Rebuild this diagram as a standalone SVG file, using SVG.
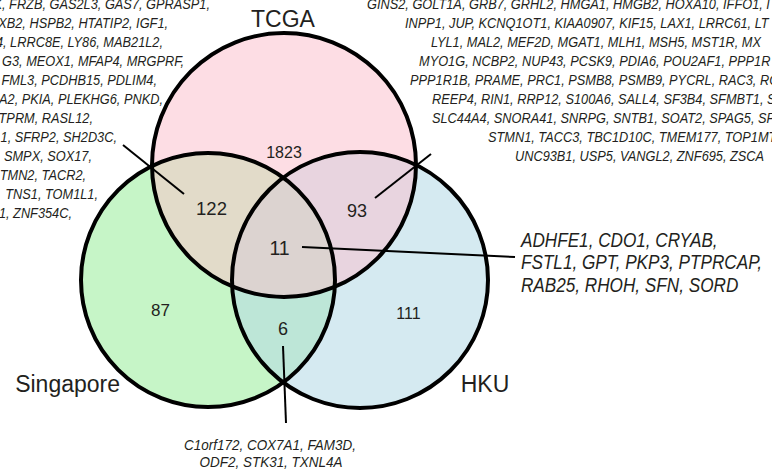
<svg xmlns="http://www.w3.org/2000/svg" xmlns:xlink="http://www.w3.org/1999/xlink" width="772" height="469" viewBox="0 0 772 469">
<style>
.outline{fill:none;stroke:#000;stroke-width:4}
.conn{stroke:#000;stroke-width:2;fill:none}
.lab{font-family:"Liberation Sans",Arial,sans-serif;font-size:23px;fill:#231f20}
.num{font-family:"Liberation Sans",Arial,sans-serif;fill:#231f20;text-anchor:middle}
.gene{font-family:"Liberation Sans",Arial,sans-serif;font-style:italic;font-size:14.2px;fill:#231f20}
.g11{font-family:"Liberation Sans",Arial,sans-serif;font-style:italic;font-size:19.5px;fill:#231f20}
.g6{font-family:"Liberation Sans",Arial,sans-serif;font-style:italic;font-size:15.3px;fill:#231f20;text-anchor:middle}
</style>
<defs>
<circle id="cT" cx="284" cy="165" r="132"/>
<circle id="cS" cx="208" cy="280" r="127"/>
<circle id="cH" cx="360" cy="280" r="128"/>
<clipPath id="clipT"><use xlink:href="#cT"/></clipPath>
<clipPath id="clipS"><use xlink:href="#cS"/></clipPath>
<clipPath id="clipH"><use xlink:href="#cH"/></clipPath>
</defs>
<rect width="772" height="469" fill="#fff"/>
<g id="set-tcga">
<use xlink:href="#cT" fill="#fddde4"/>
<text class="lab" x="283" y="27" text-anchor="middle">TCGA</text>
</g>
<g id="set-singapore">
<use xlink:href="#cS" fill="#c6f5c7"/>
<text class="lab" x="120" y="392" text-anchor="end">Singapore</text>
</g>
<g id="set-hku">
<use xlink:href="#cH" fill="#d5eaf1"/>
<text class="lab" x="485" y="392" text-anchor="middle">HKU</text>
</g>
<g id="overlaps">
<g clip-path="url(#clipT)"><use xlink:href="#cS" fill="#e2dbc9"/></g>
<g clip-path="url(#clipT)"><use xlink:href="#cH" fill="#e8d4df"/></g>
<g clip-path="url(#clipH)"><use xlink:href="#cS" fill="#bde6d7"/></g>
<g clip-path="url(#clipT)"><g clip-path="url(#clipH)"><use xlink:href="#cS" fill="#dcd3d0"/></g></g>
</g>
<g id="outlines">
<use xlink:href="#cT" class="outline"/>
<use xlink:href="#cS" class="outline"/>
<use xlink:href="#cH" class="outline"/>
</g>
<g id="counts">
<text class="num" x="284" y="158" font-size="16">1823</text>
<text class="num" x="211.5" y="215" font-size="18.5">122</text>
<text class="num" x="357" y="217" font-size="18">93</text>
<text class="num" x="279.5" y="255" font-size="19.5">11</text>
<text class="num" x="160.5" y="316" font-size="17">87</text>
<text class="num" x="283" y="335" font-size="18">6</text>
<text class="num" x="408.5" y="319" font-size="16">111</text>
</g>
<g id="connectors">
<line class="conn" x1="123" y1="145" x2="184" y2="194"/>
<line class="conn" x1="375" y1="198" x2="431" y2="154"/>
<line class="conn" x1="302" y1="247" x2="515" y2="257"/>
<line class="conn" x1="283" y1="346" x2="286" y2="423"/>
</g>
<g id="genes-tcga-singapore" class="gene" text-anchor="end" transform="scale(0.9,1)">
<text x="233.3" y="9">K, FRZB, GAS2L3, GAS7, GPRASP1,</text>
<text x="186.7" y="28">XB2, HSPB2, HTATIP2, IGF1,</text>
<text x="181.1" y="47">4, LRRC8E, LY86, MAB21L2,</text>
<text x="204.4" y="66">G3, MEOX1, MFAP4, MRGPRF,</text>
<text x="174.4" y="85">FML3, PCDHB15, PDLIM4,</text>
<text x="181.1" y="104">A2, PKIA, PLEKHG6, PNKD,</text>
<text x="103.3" y="123">PTPRM, RASL12,</text>
<text x="130" y="142">1, SFRP2, SH2D3C,</text>
<text x="102.2" y="161">, SMPX, SOX17,</text>
<text x="95.6" y="180">TMN2, TACR2,</text>
<text x="108.9" y="199">TNS1, TOM1L1,</text>
<text x="80" y="218">1, ZNF354C,</text>
</g>
<g id="genes-tcga-hku" class="gene" transform="scale(0.9,1)">
<text x="407.8" y="9">GINS2, GOLT1A, GRB7, GRHL2, HMGA1, HMGB2, HOXA10, IFFO1, I</text>
<text x="450" y="28">INPP1, JUP, KCNQ1OT1, KIAA0907, KIF15, LAX1, LRRC61, LT</text>
<text x="478.9" y="47">LYL1, MAL2, MEF2D, MGAT1, MLH1, MSH5, MST1R, MX</text>
<text x="465.6" y="66">MYO1G, NCBP2, NUP43, PCSK9, PDIA6, POU2AF1, PPP1R</text>
<text x="455.6" y="85">PPP1R1B, PRAME, PRC1, PSMB8, PSMB9, PYCRL, RAC3, RC</text>
<text x="480" y="104">REEP4, RIN1, RRP12, S100A6, SALL4, SF3B4, SFMBT1, S</text>
<text x="480" y="123">SLC44A4, SNORA41, SNRPG, SNTB1, SOAT2, SPAG5, SPI</text>
<text x="542.2" y="142">STMN1, TACC3, TBC1D10C, TMEM177, TOP1MT, TF</text>
<text x="572.2" y="161">UNC93B1, USP5, VANGL2, ZNF695, ZSCA</text>
</g>
<g id="genes-all" class="g11" transform="scale(0.88,1)">
<text x="592" y="247">ADHFE1, CDO1, CRYAB,</text>
<text x="592" y="269.5">FSTL1, GPT, PKP3, PTPRCAP,</text>
<text x="592" y="292">RAB25, RHOH, SFN, SORD</text>
</g>
<g id="genes-singapore-hku" class="g6" transform="scale(0.88,1)">
<text x="306.8" y="450">C1orf172, COX7A1, FAM3D,</text>
<text x="308" y="467">ODF2, STK31, TXNL4A</text>
</g>
</svg>
